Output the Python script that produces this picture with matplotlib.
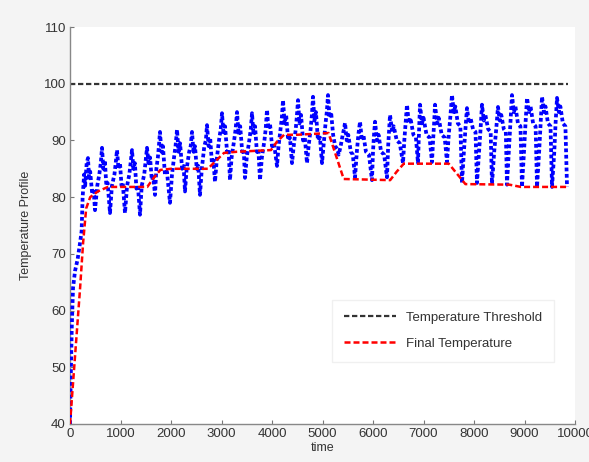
import matplotlib
matplotlib.use("Agg")
import matplotlib.pyplot as plt

plt.rcParams['font.family'] = ['Liberation Sans', 'DejaVu Sans']

# Threshold line
threshold_time = [0, 9860]
threshold_temp = [100, 100]

# Final temperature (red)
red_time = [0, 100, 200, 260, 320, 400, 550, 750, 1530, 1650, 1790, 2000, 2730, 2900, 3050,
            3300, 3980, 4100, 4240, 4500, 5120, 5420, 6340, 6470, 6610, 7000, 7500, 7830,
            8700, 8930, 9860]
red_temp = [40, 52, 64, 72, 78, 80, 81, 81.8, 81.8, 83.3, 84.8, 85, 85, 86.5, 87.8,
            88, 88.3, 89.8, 91, 91, 91.3, 83.2, 83, 84.5, 85.9, 85.9, 85.9, 82.3,
            82.2, 81.8, 81.8]

# Temperature profile (blue)
blue_time = [
    0, 15, 35, 60, 100, 150, 200, 230, 250, 280, 300, 330, 356, 380, 400, 440, 470, 495,
    540, 580, 610, 634, 660, 690, 720, 745, 792,
    830, 880, 905, 931, 960, 990, 1020, 1045, 1089,
    1130, 1175, 1200, 1228, 1255, 1285, 1315, 1345, 1386,
    1420, 1470, 1500, 1525, 1555, 1585, 1620, 1650, 1683,
    1710, 1740, 1760, 1782, 1810, 1840, 1880, 1920, 1980,
    2020, 2060, 2090, 2119, 2150, 2180, 2220, 2250, 2277,
    2310, 2360, 2390, 2416, 2445, 2475, 2510, 2540, 2574,
    2610, 2660, 2690, 2713, 2745, 2775, 2810, 2840, 2871,
    2910, 2950, 2985, 3010, 3040, 3070, 3110, 3140, 3168,
    3200, 3250, 3280, 3307, 3340, 3370, 3410, 3440, 3465,
    3500, 3550, 3580, 3604, 3635, 3665, 3700, 3730, 3762,
    3800, 3850, 3875, 3901, 3930, 3960, 4000, 4040, 4099,
    4130, 4170, 4195, 4218, 4250, 4280, 4320, 4355, 4396,
    4430, 4470, 4490, 4515, 4545, 4575, 4615, 4650, 4693,
    4725, 4765, 4790, 4812, 4840, 4870, 4910, 4950, 4990,
    5020, 5060, 5085, 5109, 5140, 5170, 5210, 5250, 5290, 5320,
    5360, 5400, 5425, 5446, 5480, 5510, 5560, 5600, 5644,
    5680, 5710, 5743, 5780, 5810, 5860, 5920, 5980,
    6000, 6020, 6040, 6080, 6110, 6160, 6220, 6277,
    6300, 6320, 6337, 6380, 6410, 6470, 6530, 6594,
    6620, 6645, 6673, 6710, 6740, 6800, 6850, 6891,
    6905, 6918, 6931, 6970, 7000, 7060, 7120, 7168,
    7190, 7210, 7228, 7270, 7300, 7360, 7420, 7465,
    7500, 7530, 7564, 7600, 7630, 7680, 7730, 7762,
    7800, 7830, 7861, 7900, 7930, 7980, 8030, 8059,
    8100, 8130, 8158, 8195, 8225, 8280, 8330, 8356,
    8400, 8440, 8475, 8510, 8540, 8590, 8630, 8653,
    8690, 8720, 8752, 8790, 8820, 8870, 8920, 8950,
    8990, 9020, 9050, 9090, 9120, 9170, 9220, 9248,
    9290, 9320, 9347, 9385, 9415, 9465, 9515, 9545,
    9590, 9615, 9644, 9680, 9710, 9760, 9810, 9842]
blue_temp = [
    40, 48, 57, 64, 67, 69, 72, 74, 80, 84, 82, 86, 86.9, 83, 84.5, 80.5, 81, 77.7,
    82, 84, 86, 88.7, 85, 86.5, 82, 82.5, 77.2,
    82, 84, 86, 88.3, 85, 86, 82, 82.5, 77.2,
    82, 84, 86, 88.3, 85, 86, 81.5, 82, 76.9,
    82, 84, 86.5, 88.7, 86, 87, 83, 83.5, 80.4,
    85, 87, 89, 91.5, 88, 89, 84, 84.5, 79.0,
    84, 87, 89, 91.9, 88, 89.5, 85, 85.5, 81.0,
    85, 88, 89, 91.5, 88, 89, 85, 85.5, 80.4,
    85, 89, 90, 92.7, 89, 90.5, 86, 86.5, 82.7,
    87, 90, 92, 94.8, 91, 92.5, 88, 88.5, 83.0,
    87, 90, 92, 95.0, 91, 92.5, 88, 88.5, 83.4,
    87, 90, 92, 94.8, 91, 92.5, 88, 88.5, 83.0,
    87, 90, 92, 95.4, 92, 93, 89, 89.5, 85.5,
    89, 92, 94, 97.1, 93, 94.5, 90, 90.5, 86.0,
    89, 92, 94, 97.1, 93, 94.5, 90, 90.5, 86.0,
    89, 92, 94.5, 97.7, 93.5, 95, 90, 90.5, 86.0,
    89, 93, 95, 98.0, 94, 95, 91, 89, 88.5, 87.5,
    89, 91, 92, 93.1, 90, 91, 88, 87.5, 83.5,
    88, 91, 93.3, 90, 91, 88, 87.5, 83.0,
    88, 91, 93.3, 90, 91, 88, 87.5, 83.5,
    89, 92, 94.5, 91.5, 92.5, 90, 89.5, 86.0,
    90, 93, 96.3, 93, 94, 91, 90.5, 86.0,
    90, 93, 96.3, 93, 94, 91, 90.5, 86.2,
    90, 93, 96.3, 93, 94, 91, 90.5, 86.2,
    91, 94, 98.0, 95, 96, 93, 92.5, 82.5,
    88, 92, 95.7, 93, 94, 92, 91.5, 82.5,
    88, 92, 96.3, 93.5, 94.5, 92, 91.5, 82.3,
    88, 92, 95.9, 93.5, 94.5, 92, 91.5, 82.2,
    88, 93, 98.0, 95, 96, 93, 92.5, 81.8,
    88, 93, 97.5, 95, 96, 93, 92.5, 81.8,
    88, 93, 97.7, 95, 96, 93, 92.5, 81.8,
    88, 93, 97.5, 95, 96, 93, 92.5, 81.8]

x_ticks = [0, 1000, 2000, 3000, 4000, 5000, 6000, 7000, 8000, 9000, 10000]
y_ticks = [40, 50, 60, 70, 80, 90, 100, 110]

fig = plt.figure(figsize=(5.89, 4.62), dpi=100, facecolor='#f4f4f4')
ax = fig.add_axes([70/589, 38/462, 505/589, 397/462])
ax.set_facecolor('white')

ax.plot(blue_time, blue_temp, color='#0000ff', lw=2.7, linestyle=(0, (1.0, 0.7)), zorder=3)
ax.plot(threshold_time, threshold_temp, color='#333333', lw=1.6, linestyle=(0, (2.4, 1.2)),
        label='Temperature Threshold', zorder=2)
ax.plot(red_time, red_temp, color='#ff0000', lw=1.8, linestyle=(0, (2.4, 1.2)),
        label='Final Temperature', zorder=4)

ax.set_xlim(0, 10000)
ax.set_ylim(40, 110)
ax.set_xticks(x_ticks)
ax.set_yticks(y_ticks)
ax.tick_params(direction='in', length=3, width=0.8, colors='#777777', labelcolor='#333333',
               labelsize=9.5, pad=3)
for s in ['top', 'right']:
    ax.spines[s].set_visible(False)
for s in ['left', 'bottom']:
    ax.spines[s].set_color('#888888')
    ax.spines[s].set_linewidth(1.0)

ax.set_xlabel('time', fontsize=9, color='#333333', labelpad=1)
ax.set_ylabel('Temperature Profile', fontsize=9, color='#333333', labelpad=8)

leg = ax.legend(loc='lower right', bbox_to_anchor=(0.972, 0.14), fontsize=9.5,
                handlelength=3.9, labelspacing=1.05, borderpad=0.9, frameon=True,
                fancybox=False, edgecolor='#f0f0f0', facecolor='white', framealpha=1)
for t in leg.get_texts():
    t.set_color('#333333')

fig.savefig('out.png', dpi=100, facecolor=fig.get_facecolor())
